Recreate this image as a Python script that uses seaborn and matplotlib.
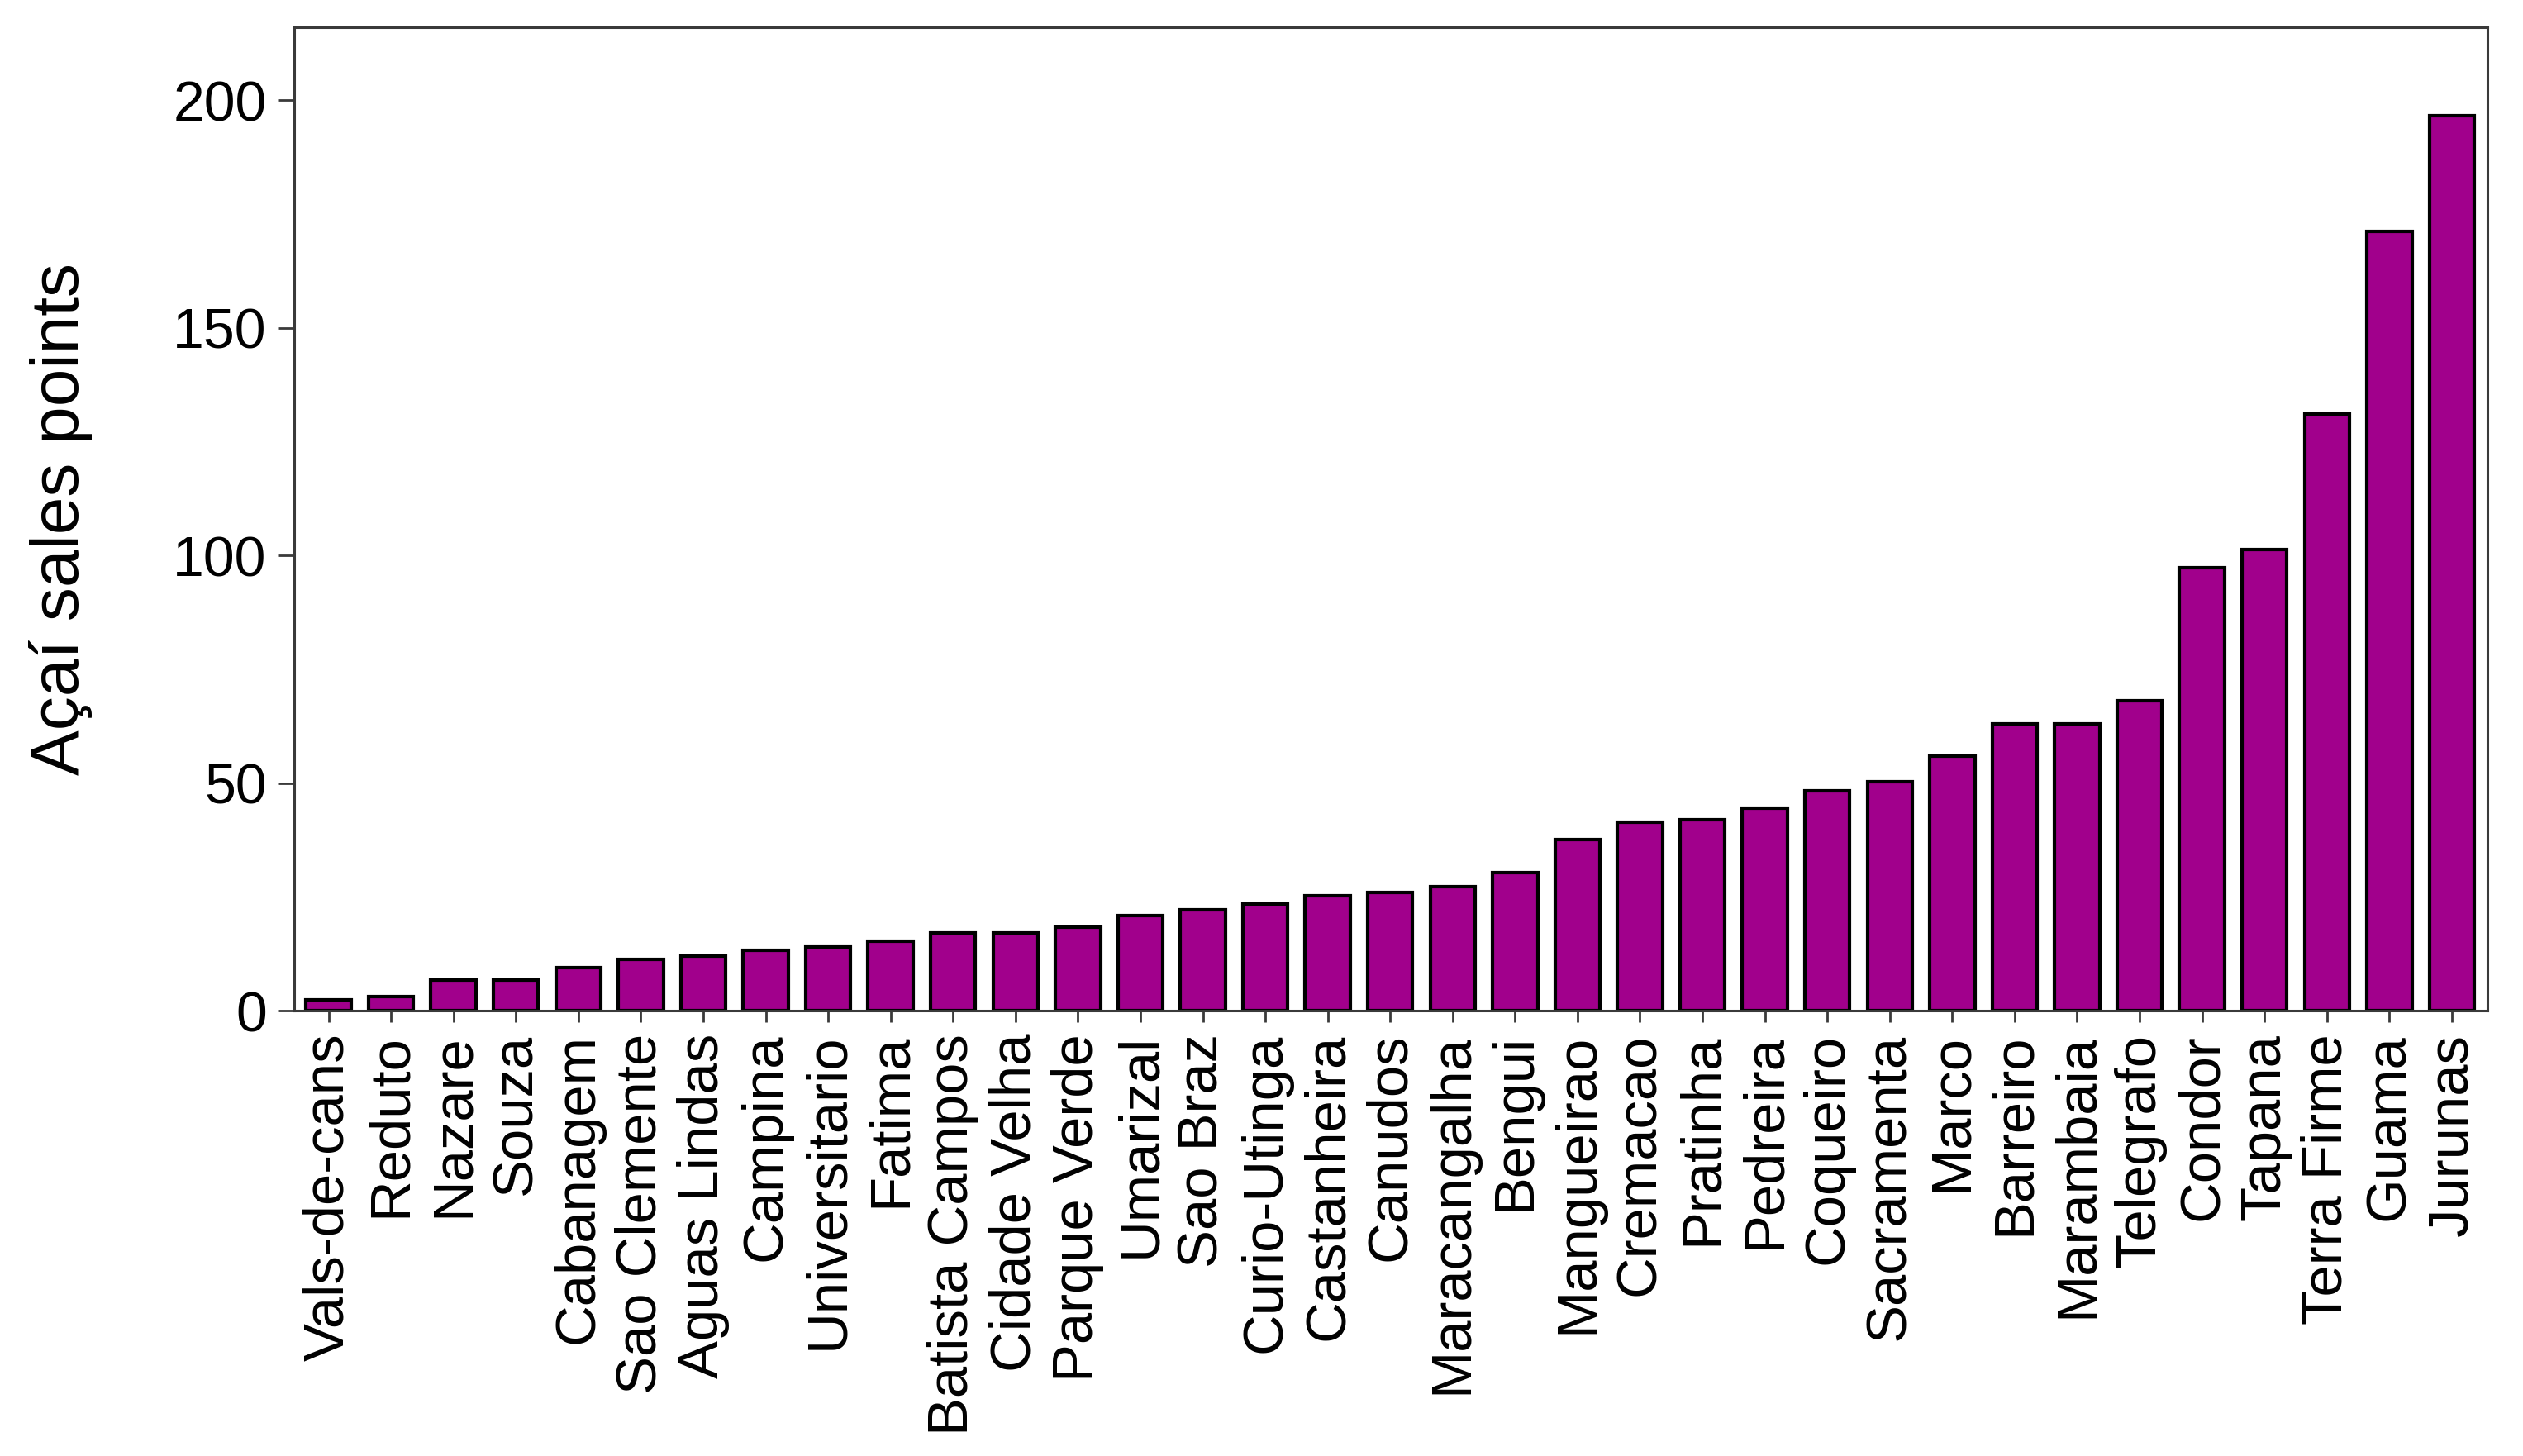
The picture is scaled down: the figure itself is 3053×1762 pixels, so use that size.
import matplotlib
matplotlib.use("Agg")
import matplotlib.pyplot as plt
import seaborn as sns

# Dados: pontos de venda de açaí por bairro
bairros = ["Vals-de-cans", "Reduto", "Nazare", "Souza", "Cabanagem", "Sao Clemente",
           "Aguas Lindas", "Campina", "Universitario", "Fatima", "Batista Campos",
           "Cidade Velha", "Parque Verde", "Umarizal", "Sao Braz", "Curio-Utinga",
           "Castanheira", "Canudos", "Maracangalha", "Bengui", "Mangueirao", "Cremacao",
           "Pratinha", "Pedreira", "Coqueiro", "Sacramenta", "Marco", "Barreiro",
           "Marambaia", "Telegrafo", "Condor", "Tapana", "Terra Firme", "Guama", "Jurunas"]
pontos = [2.3, 3.0, 6.8, 6.8, 9.4, 11.3, 12.0, 13.2, 13.9, 15.2, 17.0,
          17.0, 18.4, 20.9, 22.1, 23.5, 25.3, 26.0, 27.3, 30.4, 37.5, 41.3,
          41.9, 44.5, 48.3, 50.2, 55.9, 62.9, 62.9, 68.0, 97.3, 101.2, 131.0, 171.2, 196.6]
yticks = [0, 50, 100, 150, 200]

sns.set_style("white")
plt.rcParams['font.family'] = ['Liberation Sans', 'DejaVu Sans']
plt.rcParams['text.color'] = 'black'
plt.rcParams['axes.labelcolor'] = 'black'
plt.rcParams['xtick.color'] = 'black'
plt.rcParams['ytick.color'] = 'black'

fig, ax = plt.subplots(figsize=(15.265, 8.81), dpi=200)
fig.subplots_adjust(left=0.1166, right=0.9859, top=0.9813, bottom=0.3059)

sns.barplot(x=bairros, y=pontos, color="#A1008C", saturation=1, width=0.72,
            edgecolor="black", linewidth=1.5, ax=ax)

ax.set_xlim(-0.55, len(bairros) - 1 + 0.57)
ax.set_ylim(0, 216)
ax.set_yticks(yticks)
ax.set_ylabel("Açaí sales points", fontsize=29.5, labelpad=35)
ax.set_xlabel("")

for s in ax.spines.values():
    s.set_visible(True)
    s.set_color("#3a3a3a")
    s.set_linewidth(1.1)

ax.tick_params(axis="y", labelsize=24.5, length=7, width=1.0, color="#3a3a3a",
               labelcolor="black", pad=5, left=True, direction="out")
ax.tick_params(axis="x", labelsize=24.8, length=5, width=1.0, color="#3a3a3a",
               labelcolor="black", pad=5, bottom=True, direction="out", rotation=90)

plt.savefig("out.png", dpi=200)
plt.close()
